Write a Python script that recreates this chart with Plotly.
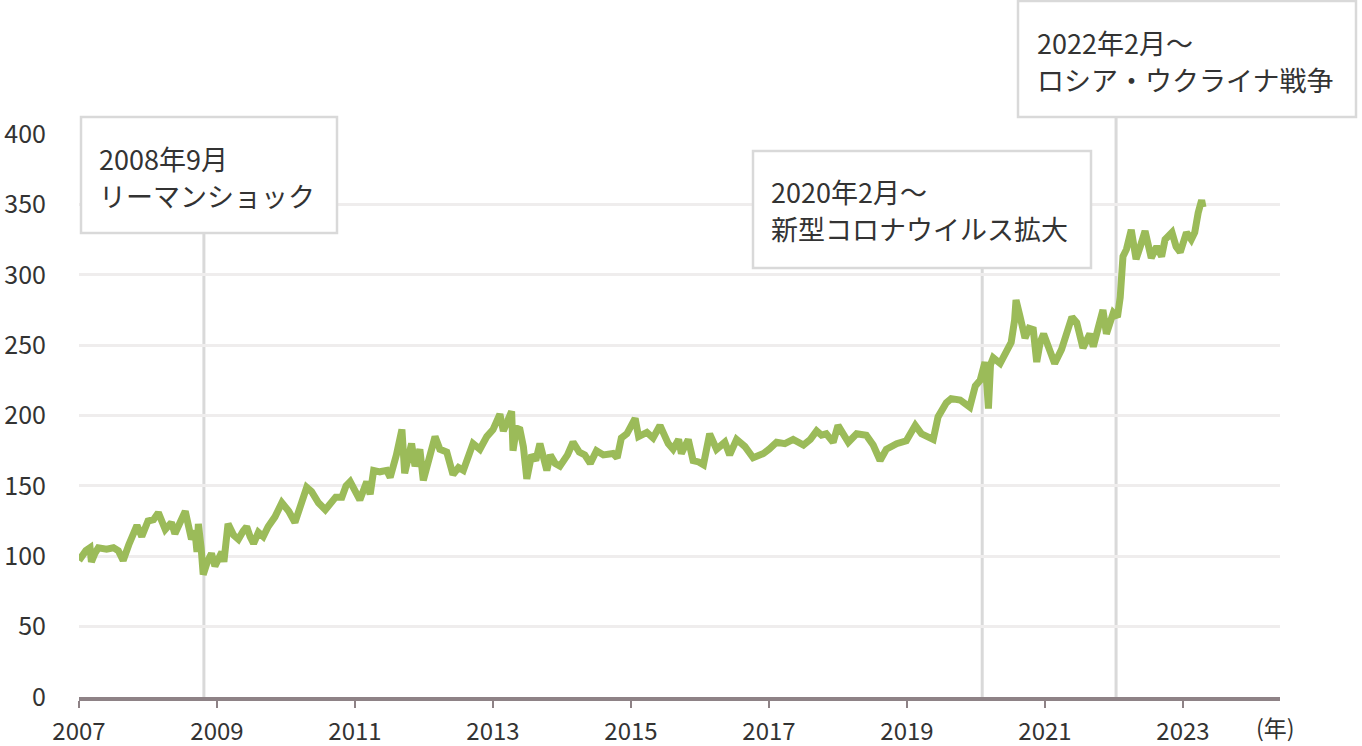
import plotly.graph_objects as go

# ---- data (decimal year, index value) ----
years = [
    2007.00, 2007.05, 2007.10, 2007.16, 2007.18, 2007.23, 2007.28, 2007.40, 2007.50, 2007.57,
    2007.64, 2007.72, 2007.84, 2007.91, 2008.00, 2008.08, 2008.15, 2008.25, 2008.34, 2008.39,
    2008.47, 2008.54, 2008.63, 2008.68, 2008.71, 2008.73, 2008.77, 2008.80, 2008.86, 2008.92,
    2008.97, 2009.03, 2009.07, 2009.10, 2009.16, 2009.24, 2009.31, 2009.38, 2009.43, 2009.48,
    2009.53, 2009.60, 2009.67, 2009.74, 2009.84, 2009.94, 2010.04, 2010.13, 2010.23, 2010.30,
    2010.37, 2010.47, 2010.57, 2010.65, 2010.72, 2010.81, 2010.87, 2010.93, 2011.00, 2011.07,
    2011.17, 2011.22, 2011.27, 2011.36, 2011.46, 2011.51, 2011.60, 2011.68, 2011.72, 2011.82,
    2011.87, 2011.94, 2011.99, 2012.08, 2012.16, 2012.23, 2012.33, 2012.42, 2012.50, 2012.57,
    2012.64, 2012.71, 2012.81, 2012.91, 2013.00, 2013.10, 2013.15, 2013.22, 2013.27, 2013.29,
    2013.34, 2013.39, 2013.44, 2013.49, 2013.56, 2013.62, 2013.68, 2013.78, 2013.83, 2013.90,
    2013.97, 2014.08, 2014.16, 2014.25, 2014.33, 2014.41, 2014.50, 2014.60, 2014.74, 2014.80,
    2014.86, 2014.94, 2015.06, 2015.11, 2015.23, 2015.32, 2015.42, 2015.54, 2015.61, 2015.69,
    2015.73, 2015.83, 2015.90, 2015.98, 2016.05, 2016.14, 2016.24, 2016.36, 2016.43, 2016.53,
    2016.65, 2016.77, 2016.92, 2017.00, 2017.11, 2017.23, 2017.35, 2017.50, 2017.60, 2017.69,
    2017.76, 2017.83, 2017.93, 2018.00, 2018.08, 2018.15, 2018.27, 2018.41, 2018.51, 2018.61,
    2018.70, 2018.85, 2018.99, 2019.05, 2019.12, 2019.21, 2019.33, 2019.38, 2019.45, 2019.57,
    2019.64, 2019.77, 2019.91, 2019.99, 2020.06, 2020.13, 2020.16, 2020.18, 2020.21, 2020.25,
    2020.35, 2020.44, 2020.51, 2020.56, 2020.58, 2020.64, 2020.71, 2020.77, 2020.83, 2020.88,
    2020.93, 2020.98, 2021.06, 2021.14, 2021.24, 2021.32, 2021.39, 2021.46, 2021.55, 2021.65,
    2021.70, 2021.77, 2021.84, 2021.89, 2021.99, 2022.05, 2022.09, 2022.13, 2022.18, 2022.25,
    2022.32, 2022.38, 2022.45, 2022.54, 2022.62, 2022.69, 2022.74, 2022.84, 2022.90, 2022.96,
    2023.05, 2023.12, 2023.17, 2023.22, 2023.27, 2023.29,
]
values = [
    97, 101, 104, 106, 96, 102, 106, 105, 106, 104,
    97, 108, 122, 114, 125, 126, 131, 119, 124, 116,
    124, 132, 112, 118, 103, 123, 106, 87, 96, 102,
    93, 100, 103, 96, 123, 115, 112, 118, 121, 114,
    109, 117, 114, 121, 128, 138, 132, 124, 138, 149,
    146, 138, 133, 138, 142, 142, 150, 153, 146, 140,
    153, 144, 161, 160, 161, 156, 172, 190, 159, 180,
    164, 176, 154, 172, 185, 176, 174, 158, 163, 161,
    170, 180, 176, 185, 190, 201, 189, 196, 203, 175,
    191, 190, 178, 155, 172, 168, 180, 161, 172, 166,
    164, 172, 181, 174, 172, 166, 175, 172, 173, 170,
    184, 187, 198, 185, 188, 184, 193, 180, 176, 183,
    173, 183, 168, 167, 165, 187, 176, 181, 172, 183,
    178, 170, 173, 176, 181, 180, 183, 179, 183, 189,
    186, 187, 181, 193, 186, 181, 187, 186, 179, 168,
    176, 180, 182, 187, 193, 187, 185, 183, 199, 209,
    212, 211, 206, 221, 225, 238, 220, 205, 236, 241,
    237, 247, 252, 268, 282, 270, 255, 262, 261, 238,
    252, 258, 248, 237, 247, 258, 270, 266, 248, 258,
    249, 262, 275, 258, 273, 270, 284, 313, 318, 332,
    311, 320, 331, 312, 320, 313, 325, 330, 320, 316,
    330, 325, 330, 344, 353, 348,
]

event_dates = [2008.81, 2020.09, 2022.03]
event_line1 = ["2008年9月", "2020年2月～", "2022年2月～"]
event_line2 = ["リーマンショック", "新型コロナウイルス拡大", "ロシア・ウクライナ戦争"]
x_ticks = [2007, 2009, 2011, 2013, 2015, 2017, 2019, 2021, 2023]
y_ticks = [0, 50, 100, 150, 200, 250, 300, 350, 400]

# ---- layout geometry ----
W, H = 1362, 746
L, R, T, B = 79, 82, 134, 49
PW, PH = W - L - R, H - T - B
X0, X1 = 2007, 2007 + PW / 69.0
Y0, Y1 = 0, 400


def xp(year):
    return (year - X0) / (X1 - X0)


def py_from_pixel(px_y):
    return (H - B - px_y) / PH


def px_from_pixel(px_x):
    return (px_x - L) / PW


FONT = "Noto Sans CJK JP, Noto Sans, sans-serif"
GRAY = "#d9d9d9"

fig = go.Figure()
fig.add_trace(go.Scatter(
    x=years, y=values, mode="lines",
    line=dict(color="#9bbb59", width=7),
    hoverinfo="skip", showlegend=False,
))

# boxes in pixel terms: (left, top, right, bottom, text_left, line1_center, line2_center)
boxes = [
    (81, 117, 337, 233, 98, 158, 195),
    (753, 151, 1091, 268, 770, 191, 228),
    (1018, 1, 1356, 117, 1036, 43, 80),
]

shapes = []
annotations = []
for d, t1, t2, (bl, bt, br, bb, tl, c1, c2) in zip(event_dates, event_line1, event_line2, boxes):
    shapes.append(dict(
        type="line", xref="paper", yref="paper",
        x0=xp(d), x1=xp(d), y0=0, y1=py_from_pixel(bb),
        line=dict(color=GRAY, width=3), layer="between",
    ))
    shapes.append(dict(
        type="rect", xref="paper", yref="paper",
        x0=px_from_pixel(bl), x1=px_from_pixel(br),
        y0=py_from_pixel(bb), y1=py_from_pixel(bt),
        line=dict(color=GRAY, width=2.5), fillcolor="white", layer="above",
    ))
    for txt, cy in ((t1, c1), (t2, c2)):
        annotations.append(dict(
            xref="paper", yref="paper",
            x=px_from_pixel(tl), y=py_from_pixel(cy),
            xanchor="left", yanchor="middle", align="left",
            text=txt, showarrow=False, borderpad=0,
            font=dict(family=FONT, size=27, color="#333333"),
        ))

annotations.append(dict(
    xref="paper", yref="paper",
    x=px_from_pixel(1275), y=py_from_pixel(727),
    xanchor="center", yanchor="middle",
    text="(年)", showarrow=False, borderpad=0,
    font=dict(family=FONT, size=23, color="#333333"),
))

fig.update_layout(
    width=W, height=H,
    margin=dict(l=L, r=R, t=T, b=B, pad=0, autoexpand=False),
    paper_bgcolor="white", plot_bgcolor="white",
    font=dict(family=FONT, size=24, color="#333333"),
    shapes=shapes, annotations=annotations,
    showlegend=False,
)
fig.update_xaxes(
    range=[X0, X1], tickvals=x_ticks, ticktext=[str(t) for t in x_ticks],
    showgrid=False, zeroline=False, automargin=False,
    showline=True, linecolor="#8e8286", linewidth=4,
    ticks="outside", ticklen=7, tickwidth=2, tickcolor="#8e8286",
    tickfont=dict(family=FONT, size=24, color="#333333"),
    ticklabelstandoff=3,
)
fig.update_yaxes(
    range=[Y0, Y1], tickvals=y_ticks, automargin=False,
    showgrid=True, gridcolor="#efeded", gridwidth=3,
    zeroline=False, showline=False, ticks="",
    tickfont=dict(family=FONT, size=25, color="#333333"),
    ticklabelstandoff=32,
)

fig.write_html("out.html", config={"displayModeBar": False, "staticPlot": True})

# remove the default page margin so the figure fills the window exactly
with open("out.html", "r", encoding="utf-8") as f:
    html = f.read()
html = html.replace("<head>", "<head><style>html,body{margin:0;padding:0;overflow:hidden;}</style>", 1)
with open("out.html", "w", encoding="utf-8") as f:
    f.write(html)
